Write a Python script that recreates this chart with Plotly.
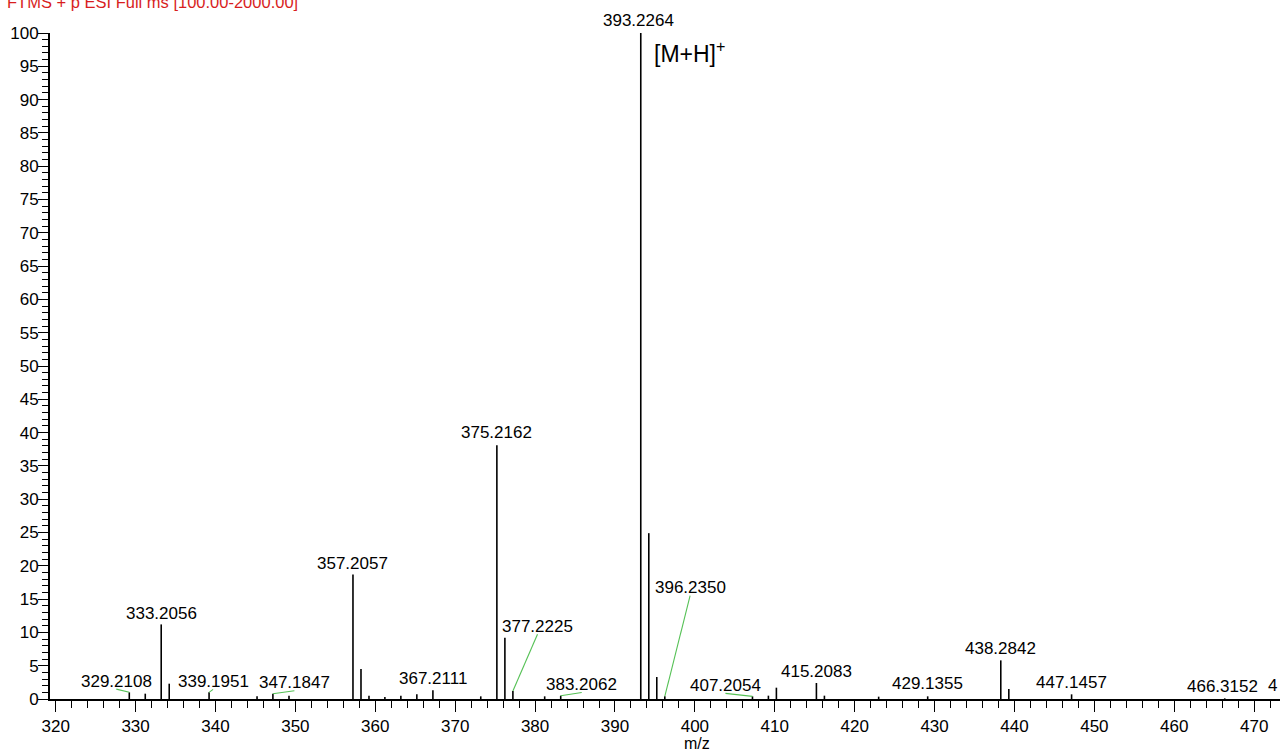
import plotly.graph_objects as go

# Centroided peaks: m/z and relative abundance (%)
peak_mz = [329.2108, 331.21, 333.2056, 334.21, 339.1951, 345.20, 347.1847, 349.20,
           357.2057, 358.21, 359.21, 361.20, 363.20, 365.20, 367.2111, 373.20,
           375.2162, 376.22, 377.2225, 381.20, 383.2062, 393.2264, 394.23, 395.23,
           396.2350, 407.2054, 409.20, 410.20, 415.2083, 416.21, 423.00, 429.1355,
           438.2842, 439.29, 447.1457, 466.3152]
peak_int = [1.0, 0.8, 11.2, 2.3, 1.0, 0.4, 0.8, 0.5,
            18.7, 4.5, 0.5, 0.3, 0.5, 0.7, 1.3, 0.4,
            38.1, 9.2, 1.2, 0.4, 0.5, 100.0, 24.9, 3.3,
            0.4, 0.4, 0.5, 1.7, 2.4, 0.5, 0.35, 0.4,
            5.8, 1.5, 0.7, 0.1]

# Peak labels
label_text = ["329.2108", "333.2056", "339.1951", "347.1847", "357.2057", "367.2111",
              "375.2162", "377.2225", "383.2062", "393.2264", "396.2350", "407.2054",
              "415.2083", "429.1355", "438.2842", "447.1457", "466.3152"]

# Label placement relative to the peak top, in pixels (right / up)
label_dx = [-13, 0, 4, 21.5, 0, 0, 0, 24.6, 21, -2, 25.3, -27, 0, 0, 0, 0, -2]
label_dy = [5.2, 5, 5, 5, 5, 5.5, 6.5, 58.8, 5.2, 6.8, 102.8, 5, 5.8, 6.5, 5.9, 5.5, 6]
label_leader = [True, False, True, True, False, False, False, True, True, False,
                True, True, False, False, False, False, False]

title_text = "FTMS + p ESI Full ms [100.00-2000.00]"
ion_text = "[M+H]<sup>+</sup>"
edge_text = "4"

# Page geometry
W, H = 1280, 751
ML, MR, MT, MB = 50, 0, 33, 52
PW, PH = W - ML - MR, H - MT - MB
X_RANGE = [319.287, 473.23]
Y_RANGE = [0, 100]
PX_X = PW / (X_RANGE[1] - X_RANGE[0])
PX_Y = PH / (Y_RANGE[1] - Y_RANGE[0])

FONT = "Arial, 'Liberation Sans', Helvetica, sans-serif"
BASE = 5.6  # baseline offset of a 17px annotation box


def paper_x(px):
    return (px - ML) / PW


def paper_y(py):
    return (H - MB - py) / PH


fig = go.Figure()

# Stick spectrum
xs, ys = [], []
for m, i in zip(peak_mz, peak_int):
    xs += [m, m, None]
    ys += [0, i, None]
fig.add_trace(go.Scatter(x=xs, y=ys, mode="lines",
                         line=dict(color="black", width=1.6),
                         hoverinfo="skip", showlegend=False, cliponaxis=False))

# Leader lines from shifted labels back to their peaks
lx, ly = [], []
annotations = []
for txt, dx, dy, lead in zip(label_text, label_dx, label_dy, label_leader):
    m = float(txt)
    i = peak_int[peak_mz.index(m)]
    if lead:
        lx += [m, m + dx / PX_X, None]
        ly += [i, i + (dy - 2) / PX_Y, None]
    annotations.append(dict(
        x=m, y=i, xref="x", yref="y", text=txt, showarrow=False,
        xanchor="center", yanchor="bottom", xshift=dx, yshift=dy - BASE,
        font=dict(family=FONT, size=17, color="black")))
fig.add_trace(go.Scatter(x=lx, y=ly, mode="lines",
                         line=dict(color="#55c155", width=1.1),
                         hoverinfo="skip", showlegend=False, cliponaxis=False))

# Scan header
annotations.append(dict(
    x=paper_x(4.7), y=paper_y(7.5), xref="paper", yref="paper", text=title_text,
    showarrow=False, xanchor="left", yanchor="bottom", yshift=-BASE,
    font=dict(family=FONT, size=16.5, color="#d81e1e")))

# Molecular ion tag
annotations.append(dict(
    x=paper_x(652), y=paper_y(61), xref="paper", yref="paper", text=ion_text,
    showarrow=False, xanchor="left", yanchor="bottom", yshift=-7.5,
    font=dict(family=FONT, size=23, color="black")))

# Label cut at the right edge
annotations.append(dict(
    x=paper_x(1266), y=paper_y(691.7), xref="paper", yref="paper", text=edge_text,
    showarrow=False, xanchor="left", yanchor="bottom", yshift=-BASE,
    font=dict(family=FONT, size=17, color="black")))

# Axis title
annotations.append(dict(
    x=paper_x(697), y=paper_y(751), xref="paper", yref="paper", text="m/z",
    showarrow=False, xanchor="center", yanchor="bottom", yshift=-1,
    borderpad=0, borderwidth=0,
    font=dict(family=FONT, size=16, color="black")))

fig.update_layout(
    width=W, height=H,
    margin=dict(l=ML, r=MR, t=MT, b=MB, pad=0),
    paper_bgcolor="white", plot_bgcolor="white",
    font=dict(family=FONT, size=17, color="black"),
    showlegend=False,
    annotations=annotations,
    xaxis=dict(range=X_RANGE, showgrid=False, zeroline=False,
               showline=True, linecolor="black", linewidth=2,
               ticks="outside", ticklen=11, tickwidth=1.2, tickcolor="black",
               tick0=320, dtick=10, tickfont=dict(size=17, color="black"),
               minor=dict(ticks="outside", ticklen=7, tickwidth=1.2,
                          tickcolor="black", dtick=2, tick0=320, showgrid=False)),
    yaxis=dict(range=Y_RANGE, showgrid=False, zeroline=False,
               showline=True, linecolor="black", linewidth=2,
               ticks="outside", ticklen=10, tickwidth=1.2, tickcolor="black",
               ticklabelstandoff=-4,
               tick0=0, dtick=5, tickfont=dict(size=17, color="black"),
               minor=dict(ticks="outside", ticklen=6, tickwidth=1.2,
                          tickcolor="black", dtick=1, tick0=0, showgrid=False)),
)

fig.write_html("out.html", config={"displayModeBar": False})
